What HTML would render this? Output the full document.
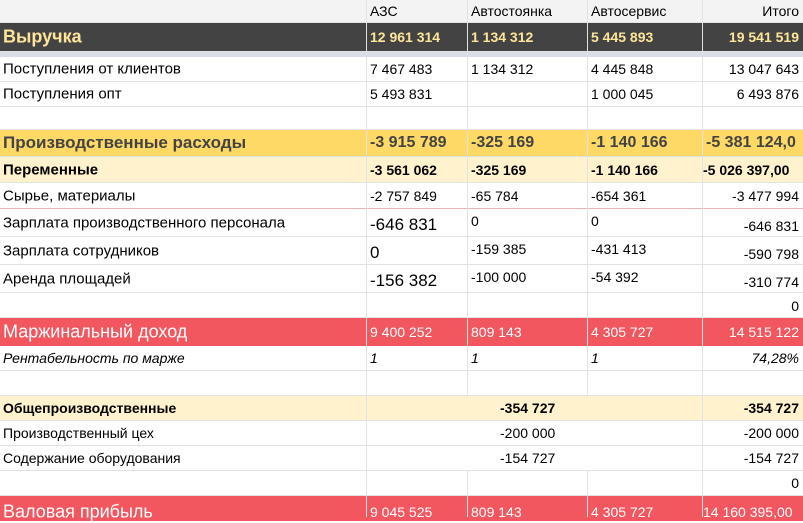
<!DOCTYPE html><html><head><meta charset="utf-8"><style>
body{margin:0;width:803px;height:517px;overflow:hidden;background:#fff;font-family:"Liberation Sans","DejaVu Sans",sans-serif;color:#000;position:relative}
.r{position:absolute;left:0;width:803px;border-bottom:1px solid #e2e2e2;box-sizing:border-box}
.t{position:absolute;white-space:nowrap;top:50%;transform:translateY(-50%)}
.v{position:absolute;width:1px;background:#e2e2e2;z-index:2}
</style></head><body>

<div class="r" style="top:0;height:23px;background:#f3f3f3;font-size:14px">
<span class="t" style="left:370px">АЗС</span><span class="t" style="left:471px">Автостоянка</span><span class="t" style="left:591px">Автосервис</span><span class="t" style="right:4px">Итого</span></div>

<div class="r" style="top:23px;height:29px;background:#434343;color:#ffe599;font-weight:bold;font-size:14px">
<span class="t" style="left:3px;font-size:18px">Выручка</span><span class="t" style="left:370px">12 961 314</span><span class="t" style="left:471px">1 134 312</span><span class="t" style="left:591px">5 445 893</span><span class="t" style="right:4px">19 541 519</span></div>
<div class="r" style="top:52px;height:5px;background:#d9dde6;border:0"></div>

<div class="r" style="top:57px;height:25px;font-size:14px"><span class="t" style="left:3px;font-size:15px">Поступления от клиентов</span><span class="t" style="left:370px">7 467 483</span><span class="t" style="left:471px">1 134 312</span><span class="t" style="left:591px">4 445 848</span><span class="t" style="right:4px">13 047 643</span></div>
<div class="r" style="top:82px;height:25px;font-size:14px"><span class="t" style="left:3px;font-size:15px">Поступления опт</span><span class="t" style="left:370px">5 493 831</span><span class="t" style="left:591px">1 000 045</span><span class="t" style="right:4px">6 493 876</span></div>
<div class="r" style="top:107px;height:23px"></div>

<div class="r" style="top:130px;height:27px;background:#ffd966;color:#434343;font-weight:bold;font-size:16px"><span class="t" style="left:3px;font-size:17px">Производственные расходы</span><span class="t" style="left:370px">-3 915 789</span><span class="t" style="left:471px">-325 169</span><span class="t" style="left:591px">-1 140 166</span><span class="t" style="left:706px">-5 381 124,0</span></div>
<div class="r" style="top:157px;height:26px;background:#fff2cc;font-weight:bold;font-size:14px"><span class="t" style="left:3px;font-size:15px">Переменные</span><span class="t" style="left:370px">-3 561 062</span><span class="t" style="left:471px">-325 169</span><span class="t" style="left:591px">-1 140 166</span><span class="t" style="left:703px">-5 026 397,00</span></div>
<div class="r" style="top:183px;height:26px;font-size:14px;border-bottom-color:#e8b5b5"><span class="t" style="left:3px;font-size:15px">Сырье, материалы</span><span class="t" style="left:370px">-2 757 849</span><span class="t" style="left:471px">-65 784</span><span class="t" style="left:591px">-654 361</span><span class="t" style="right:4px">-3 477 994</span></div>
<div class="r" style="top:209px;height:28px;font-size:14px"><span class="t" style="left:3px;font-size:15px">Зарплата производственного персонала</span><span class="t" style="left:370px;font-size:17px;top:60%">-646 831</span><span class="t" style="left:471px;top:45%">0</span><span class="t" style="left:591px;top:45%">0</span><span class="t" style="right:4px;top:62%">-646 831</span></div>
<div class="r" style="top:237px;height:28px;font-size:14px"><span class="t" style="left:3px;font-size:15px">Зарплата сотрудников</span><span class="t" style="left:370px;font-size:17px;top:60%">0</span><span class="t" style="left:471px;top:45%">-159 385</span><span class="t" style="left:591px;top:45%">-431 413</span><span class="t" style="right:4px;top:62%">-590 798</span></div>
<div class="r" style="top:265px;height:28px;font-size:14px"><span class="t" style="left:3px;font-size:15px">Аренда площадей</span><span class="t" style="left:370px;font-size:17px;top:60%">-156 382</span><span class="t" style="left:471px;top:45%">-100 000</span><span class="t" style="left:591px;top:45%">-54 392</span><span class="t" style="right:4px;top:62%">-310 774</span></div>
<div class="r" style="top:293px;height:25px;font-size:14px"><span class="t" style="right:4px;top:55%">0</span></div>

<div class="r" style="top:318px;height:28px;background:#f2565f;color:#fff;font-size:14px;border:0"><span class="t" style="left:3px;font-size:18px">Маржинальный доход</span><span class="t" style="left:370px">9 400 252</span><span class="t" style="left:471px">809 143</span><span class="t" style="left:591px">4 305 727</span><span class="t" style="right:4px">14 515 122</span></div>
<div class="r" style="top:346px;height:25px;font-size:14px;font-style:italic"><span class="t" style="left:3px">Рентабельность по марже</span><span class="t" style="left:370px">1</span><span class="t" style="left:471px">1</span><span class="t" style="left:591px">1</span><span class="t" style="right:4px">74,28%</span></div>
<div class="r" style="top:371px;height:25px"></div>
<div class="r" style="top:396px;height:25px;background:#fff2cc;font-weight:bold;font-size:14px"><span class="t" style="left:3px">Общепроизводственные</span><span class="t" style="left:500px">-354 727</span><span class="t" style="right:4px">-354 727</span></div>
<div class="r" style="top:421px;height:25px;font-size:14px"><span class="t" style="left:3px">Производственный цех</span><span class="t" style="left:500px">-200 000</span><span class="t" style="right:4px">-200 000</span></div>
<div class="r" style="top:446px;height:25px;font-size:14px"><span class="t" style="left:3px">Содержание оборудования</span><span class="t" style="left:500px">-154 727</span><span class="t" style="right:4px">-154 727</span></div>
<div class="r" style="top:471px;height:25px;font-size:14px"><span class="t" style="right:4px">0</span></div>
<div class="r" style="top:496px;height:25px;background:#f2565f;color:#fff;font-size:14px;border:0"><span class="t" style="left:3px;font-size:18px;top:65%">Валовая прибыль</span><span class="t" style="left:370px;top:65%">9 045 525</span><span class="t" style="left:471px;top:65%">809 143</span><span class="t" style="left:591px;top:65%">4 305 727</span><span class="t" style="left:703px;top:65%">14 160 395,00</span></div>

<div class="v" style="left:366px;top:0;height:517px"></div>
<div class="v" style="left:467px;top:0;height:396px"></div>
<div class="v" style="left:467px;top:471px;height:46px"></div>
<div class="v" style="left:587px;top:0;height:396px"></div>
<div class="v" style="left:587px;top:471px;height:46px"></div>
<div class="v" style="left:702px;top:0;height:517px"></div>
</body></html>
